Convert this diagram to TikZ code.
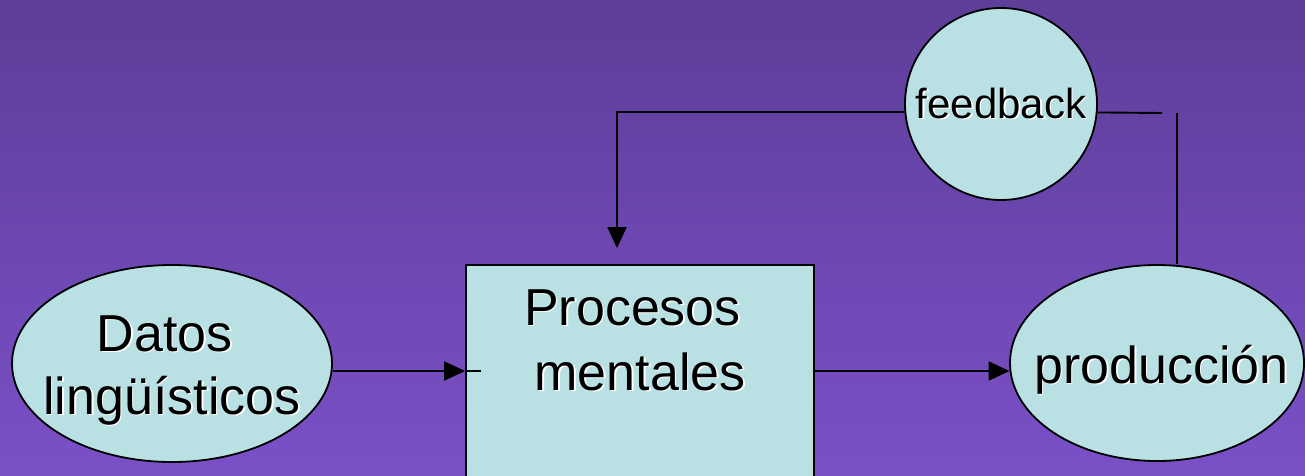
\documentclass[tikz,border=0pt]{standalone}
\usepackage{fontspec}
\setmainfont{Liberation Sans}
\usetikzlibrary{shapes.geometric,arrows.meta,calc}
\definecolor{bgtop}{RGB}{93,62,152}
\definecolor{bgbot}{RGB}{122,80,199}
\definecolor{nodefill}{RGB}{185,224,227}
\newcommand\shd[1]{\makebox[0pt][l]{\hspace{1.6pt}\raisebox{-1.6pt}{\textcolor{white}{#1}}}#1}
\tikzset{
  shapebox/.style={draw=black, line width=1.8pt, fill=nodefill, inner sep=0pt},
  bigtxt/.style={anchor=base, inner sep=0pt, font=\fontsize{52}{64}\selectfont},
  smalltxt/.style={anchor=base, inner sep=0pt, font=\fontsize{42}{50}\selectfont},
  conn/.style={draw=black, line width=1.9pt},
  arr/.style={conn, -{Triangle[length=21pt,width=19pt]}}
}
\begin{document}
\begin{tikzpicture}[x=1pt,y=-1pt]
\useasboundingbox (0,0) rectangle (1305,476);
\clip (0,0) rectangle (1305,476);
\shade[top color=bgtop, bottom color=bgbot] (0,0) rectangle (1305,476);
% shapes
\node[shapebox, ellipse, minimum width=320pt, minimum height=197pt] (dl) at (172,363.5) {};
\node[shapebox, rectangle, minimum width=348pt, minimum height=212pt] (pm) at (640,371) {};
\node[shapebox, ellipse, minimum width=294pt, minimum height=196pt] (pr) at (1157,363) {};
\node[shapebox, circle, minimum size=192pt] (fb) at (1001,104) {};
% texts
\node[bigtxt] (dt1) at (164.5,351) {\shd{Datos}};
\node[bigtxt] (dt2) at (172,414) {\shd{lingüísticos}};
\node[bigtxt] (pm1) at (632.5,325) {\shd{Procesos}};
\node[bigtxt] (pm2) at (640,390) {\shd{mentales}};
\node[bigtxt] (prt) at (1161.5,383) {\shd{producción}};
\node[smalltxt] (fbt) at (1001,118) {\shd{feedback}};
% connectors
\coordinate (fbl) at ($(pm.north)+(-23,-16)$);
\coordinate (fbr) at (1162,113);
\coordinate (vt) at (1177,113);
\coordinate (stub) at ($(pm.west)+(16,0)$);
\draw[arr] (dl.-2.7 |- pm.west) -- (pm.west);
\draw[conn] (pm.west) -- (stub);
\draw[arr] (pm.east) -- (pm.east -| pr.183);
\draw[arr] (fb.185) -| (fbl);
\draw[conn] (fb.-5) -- (fbr);
\draw[conn] (vt) -- (vt |- pr.north);
\end{tikzpicture}
\end{document}
